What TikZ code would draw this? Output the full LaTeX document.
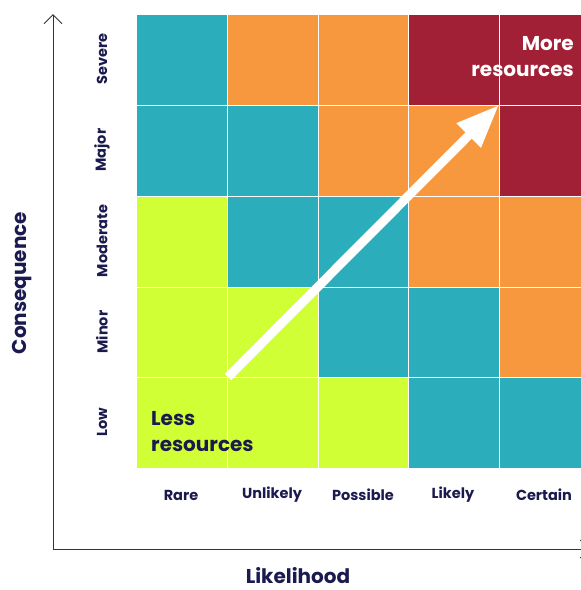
\documentclass[tikz,border=0pt]{standalone}
\usepackage{fontspec}
\setmainfont{Poppins}
\usetikzlibrary{arrows.meta}
\definecolor{riskteal}{HTML}{2BADBB}
\definecolor{riskorange}{HTML}{F7983F}
\definecolor{riskred}{HTML}{A12036}
\definecolor{risklime}{HTML}{D0FF35}
\definecolor{risknavy}{HTML}{1B1A4E}
\tikzset{
	cell/.style={draw=white, line width=1pt},
	rowlabel/.style={rotate=90, text=risknavy, font=\bfseries\fontsize{14.5}{16}\selectfont},
	collabel/.style={text=risknavy, font=\bfseries\fontsize{14.5}{16}\selectfont},
	axislabel/.style={inner sep=0pt, text=risknavy, font=\bfseries\fontsize{20}{24}\selectfont},
	notelabel/.style={inner sep=0pt, font=\bfseries\fontsize{20}{26}\selectfont},
	axisline/.style={line width=1pt, color=black!80, -{Straight Barb[length=9pt,width=18pt]}}
}

\begin{document}
\begin{tikzpicture}[x=1pt, y=-1pt]
		%%%%% START %%%%%
		\useasboundingbox (0, 0) rectangle (581, 590);
		\clip (0, 0) rectangle (581, 590);
		
		% Severe
		\draw[cell, fill=riskteal] (136, 14) rectangle (227, 105);
		\draw[cell, fill=riskorange] (227, 14) rectangle (318, 105);
		\draw[cell, fill=riskorange] (318, 14) rectangle (408, 105);
		\draw[cell, fill=riskred] (408, 14) rectangle (499, 105);
		\draw[cell, fill=riskred] (499, 14) rectangle (590, 105);
		
		% Major
		\draw[cell, fill=riskteal] (136, 105) rectangle (227, 196);
		\draw[cell, fill=riskteal] (227, 105) rectangle (318, 196);
		\draw[cell, fill=riskorange] (318, 105) rectangle (408, 196);
		\draw[cell, fill=riskorange] (408, 105) rectangle (499, 196);
		\draw[cell, fill=riskred] (499, 105) rectangle (590, 196);
		
		% Moderate
		\draw[cell, fill=risklime] (136, 196) rectangle (227, 287);
		\draw[cell, fill=riskteal] (227, 196) rectangle (318, 287);
		\draw[cell, fill=riskteal] (318, 196) rectangle (408, 287);
		\draw[cell, fill=riskorange] (408, 196) rectangle (499, 287);
		\draw[cell, fill=riskorange] (499, 196) rectangle (590, 287);
		
		% Minor
		\draw[cell, fill=risklime] (136, 287) rectangle (227, 377);
		\draw[cell, fill=risklime] (227, 287) rectangle (318, 377);
		\draw[cell, fill=riskteal] (318, 287) rectangle (408, 377);
		\draw[cell, fill=riskteal] (408, 287) rectangle (499, 377);
		\draw[cell, fill=riskorange] (499, 287) rectangle (590, 377);
		
		% Low
		\draw[cell, fill=risklime] (136, 377) rectangle (227, 468);
		\draw[cell, fill=risklime] (227, 377) rectangle (318, 468);
		\draw[cell, fill=risklime] (318, 377) rectangle (408, 468);
		\draw[cell, fill=riskteal] (408, 377) rectangle (499, 468);
		\draw[cell, fill=riskteal] (499, 377) rectangle (590, 468);
		
		% axes
		\coordinate (origin) at (53, 549);
		\coordinate (ytip) at (53, 14);
		\coordinate (xtip) at (590, 549);
		\draw[axisline] (origin) -- (ytip);
		\draw[axisline] (origin) -- (xtip);
		
		% rising arrow
		\coordinate (lessend) at (228, 377);
		\coordinate (moreend) at (499, 105);
		\draw[line width=9pt, white, -{Triangle[length=43pt,width=32pt]}] (lessend) -- (moreend);
		
		\node[notelabel, text=white, align=right, anchor=east] (more) at (574, 57) {More\\resources};
		\node[notelabel, text=risknavy, align=left, anchor=west] (less) at (151, 432) {Less\\resources};
		
		\node[rowlabel] (severe) at (102, 59) {Severe};
		\node[rowlabel] (major) at (102, 150) {Major};
		\node[rowlabel] (moderate) at (102, 241) {Moderate};
		\node[rowlabel] (minor) at (102, 332) {Minor};
		\node[rowlabel] (low) at (102, 422) {Low};
		
		\node[collabel] (rare) at (181, 495) {Rare};
		\node[collabel] (unlikely) at (272, 495) {Unlikely};
		\node[collabel] (possible) at (363, 495) {Possible};
		\node[collabel] (likely) at (453, 495) {Likely};
		\node[collabel] (certain) at (544, 495) {Certain};
		
		\node[axislabel, rotate=90] (consequence) at (22, 283) {Consequence};
		\node[axislabel] (likelihood) at (298, 576) {Likelihood};
		
		%%%%% END %%%%%
	\end{tikzpicture}
\end{document}
